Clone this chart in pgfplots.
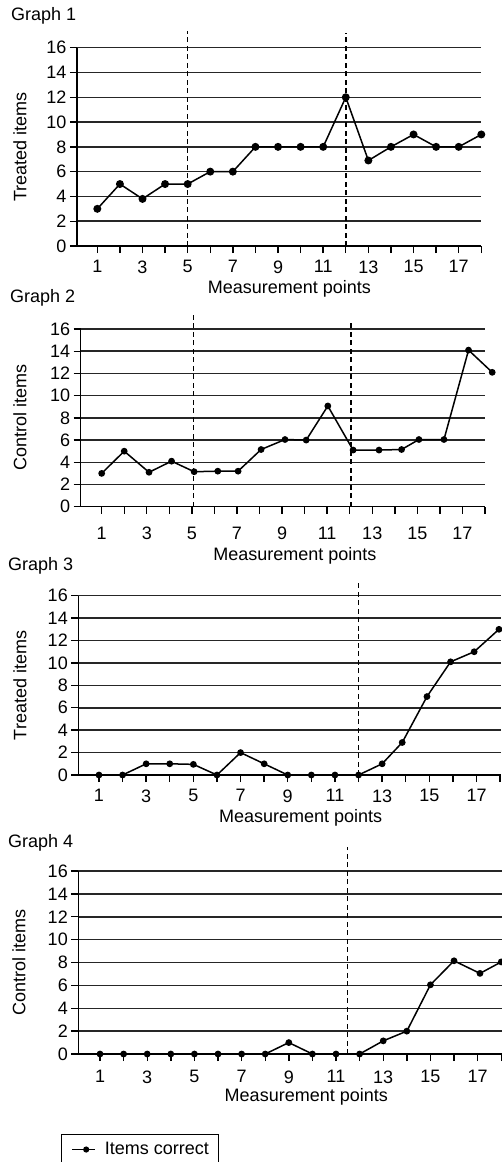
\documentclass[border=0pt]{standalone}
\usepackage{fontspec}
\setmainfont{Liberation Sans}
\usepackage{pgfplots}
\pgfplotsset{compat=1.18}
\newcommand{\ff}{\fontsize{18}{20}\selectfont}
\pgfplotsset{
  sc/.style={
    scale only axis,
    anchor=south west,
    axis x line*=bottom, axis y line*=left,
    axis line style={line width=1.5pt,black},
    ymin=0, ymax=16,
    ytick={0,2,...,16},
    yticklabels={0,2,4,6,8,10,12,14,16},
    xtick={1,...,18},
    xticklabels={1,,3,,5,,7,,9,,11,,13,,15,,17,},
    tick align=outside,
    major tick length=7pt,
    tick style={line width=1.4pt, black},
    ymajorgrids,
    major grid style={line width=1.5pt, black!85},
    font=\ff,
    ticklabel style={font=\ff},
    xticklabel style={yshift=-4pt},
    clip=false,
    xlabel={Measurement points},
    label style={font=\ff},
  },
  dl/.style={black, solid, line width=1.5pt, mark=*, mark options={solid, fill=black}},
  ph/.style={black, no markers, line width=1.5pt, dash pattern=on 5pt off 3.5pt, forget plot},
}
\begin{document}
\begin{tikzpicture}
\useasboundingbox (0pt,0pt) rectangle (501pt,-1162pt);
% titles
\node[anchor=base west, inner sep=0pt, font=\ff] at (11pt,-20pt) {Graph 1};
\node[anchor=base west, inner sep=0pt, font=\ff] at (10pt,-302.7pt) {Graph 2};
\node[anchor=base west, inner sep=0pt, font=\ff] at (8pt,-570pt) {Graph 3};
\node[anchor=base west, inner sep=0pt, font=\ff] at (8pt,-847.3pt) {Graph 4};

% Graph 1
\begin{axis}[sc, at={(77pt,-246pt)}, xmin=0.1, xmax=18, width=404.3pt, height=198.3pt,
  ylabel={Treated items},
  ylabel style={at={(axis description cs:-0.141,0.5)}, anchor=center},
  xlabel style={at={(axis cs:9.5,0)}, anchor=center, yshift=-43pt}]
\addplot[dl, mark size=3.2pt] coordinates {(1,3)(2,5)(3,3.8)(4,5)(5,5)(6,6)(7,6)(8,8)(9,8)(10,8)(11,8)(12,12)(13,6.9)(14,8)(15,9)(16,8)(17,8)(18,9)};
\addplot[ph] coordinates {(5,0)(5,17.37)};
\addplot[ph] coordinates {(12,0)(12,17.2)};
\end{axis}

% Graph 2
\begin{axis}[sc, at={(80.7pt,-506.7pt)}, xmin=0.07, xmax=18, width=404.3pt, height=177.7pt,
  ylabel={Control items},
  ylabel style={at={(axis description cs:-0.150,0.5)}, anchor=center},
  xlabel style={at={(axis cs:9.57,0)}, anchor=center, yshift=-49pt},
  xticklabel style={yshift=-6pt}]
\addplot[dl, mark size=2.6pt] coordinates {(1,3)(2,5)(3.1,3.1)(4.1,4.1)(5.1,3.15)(6.15,3.2)(7.05,3.2)(8.07,5.15)(9.13,6.05)(10.07,6)(11.03,9.07)(12.15,5.1)(13.3,5.1)(14.3,5.15)(15.07,6.05)(16.18,6.05)(17.27,14.1)(18.32,12.1)};
\addplot[ph] coordinates {(5.07,0)(5.07,17.4)};
\addplot[ph] coordinates {(12.05,0)(12.05,16.8)};
\end{axis}

% Graph 3
\begin{axis}[sc, at={(78.3pt,-775pt)}, xmin=0.124, xmax=18.02, width=422.3pt, height=179.3pt,
  ylabel={Treated items},
  ylabel style={at={(axis description cs:-0.138,0.5)}, anchor=center},
  xlabel style={at={(axis cs:9.55,0)}, anchor=center, yshift=-43pt}]
\addplot[dl, mark size=2.6pt] coordinates {(1,0)(2,0)(3,1)(4,1)(5,0.95)(6,0)(7,2)(8,1)(9,0)(10,0)(11,0)(12,0)(13,1)(13.85,2.9)(14.9,7)(15.9,10.1)(16.9,11)(17.95,13)};
\addplot[ph] coordinates {(12,0)(12,17.4)};
\end{axis}

% Graph 4
\begin{axis}[sc, at={(78.3pt,-1054pt)}, xmin=0.08, xmax=18.02, width=423.4pt, height=183pt,
  ylabel={Control items},
  ylabel style={at={(axis description cs:-0.140,0.5)}, anchor=center},
  xlabel style={at={(axis cs:9.74,0)}, anchor=center, yshift=-42.7pt},
  xticklabel style={yshift=-2pt},
  legend style={at={(axis description cs:-0.041,-0.437)}, anchor=north west,
    draw=black, line width=1.2pt, font=\ff, inner xsep=10pt, inner ysep=8pt,
    nodes={inner sep=0pt}, column sep=9pt,
    cells={anchor=west}},
  legend image code/.code={\draw[line width=1.3pt, mark=*, mark size=2.4pt, mark repeat=2, mark phase=2] plot coordinates {(0pt,0pt) (14pt,0pt) (23pt,0pt)};}]
\addplot[dl, mark size=2.6pt] coordinates {(1,0)(2,0)(3,0)(4,0)(5,0)(6,0)(7,0)(8,0)(9,1)(10,0)(11,0)(12,0)(13,1.15)(14,2)(15,6.05)(16,8.15)(17.1,7.05)(18,8.05)};
\addlegendentry{Items correct\hspace{5pt}}
\addplot[ph] coordinates {(11.48,0)(11.48,18.1)};
\end{axis}
\end{tikzpicture}
\end{document}
